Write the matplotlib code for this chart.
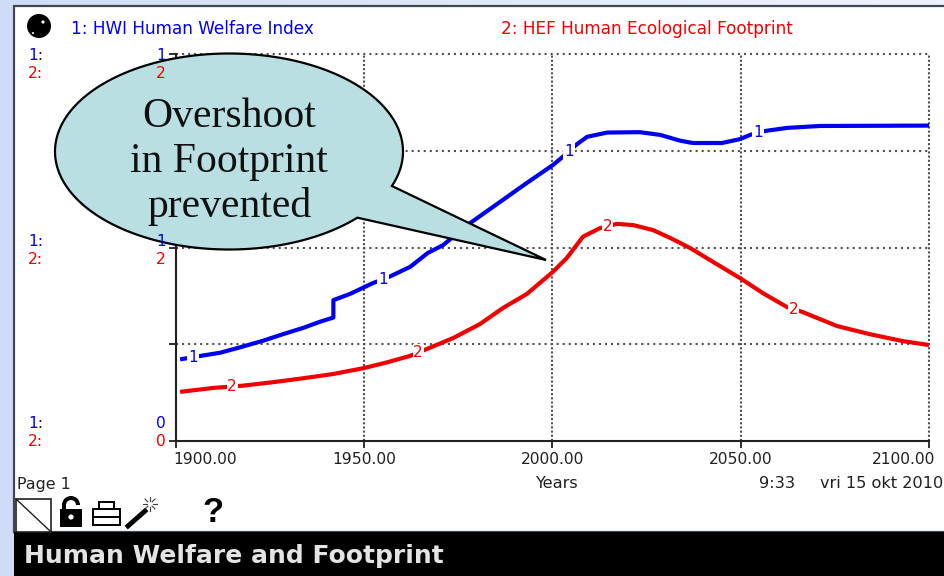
import numpy as np
import matplotlib
matplotlib.use('Agg')
import matplotlib.pyplot as plt
from matplotlib.patches import Polygon, Rectangle, Circle, Wedge
from matplotlib.transforms import ScaledTranslation

# values, fraction of the axis
years_hwi = [1901.1, 1907.2, 1911.7, 1917.0, 1923.1, 1928.4, 1933.7, 1938.2, 1941.8, 1941.8,
             1946.2, 1952.3, 1956.8, 1962.2, 1966.9, 1970.9, 1978.1, 1986.1, 1993.2, 2000.1,
             2003.3, 2006.5, 2009.2, 2014.5, 2023.2, 2028.6, 2033.9, 2037.3, 2045.0, 2049.8,
             2052.5, 2056.4, 2062.3, 2071.0, 2100]
hwi = [0.211, 0.221, 0.228, 0.242, 0.259, 0.276, 0.292, 0.308, 0.319, 0.364,
       0.380, 0.408, 0.425, 0.450, 0.486, 0.506, 0.563, 0.618, 0.667, 0.713,
       0.739, 0.767, 0.786, 0.797, 0.798, 0.791, 0.776, 0.770, 0.770, 0.780,
       0.791, 0.801, 0.809, 0.814, 0.815]
years_hef = [1901.1, 1909.8, 1917.8, 1925.8, 1933.7, 1941.7, 1949.7, 1956.0, 1962.2, 1966.7,
             1973.6, 1980.7, 1986.9, 1993.2, 2000.1, 2003.8, 2008.1, 2012.6, 2017.1, 2021.4,
             2026.7, 2031.2, 2036.5, 2042.6, 2049.8, 2055.9, 2062.3, 2066.5, 2075.6, 2084.3,
             2093.1, 2100]
hef = [0.127, 0.137, 0.143, 0.152, 0.162, 0.173, 0.188, 0.203, 0.220, 0.238,
       0.266, 0.302, 0.344, 0.380, 0.437, 0.473, 0.528, 0.550, 0.561, 0.558,
       0.545, 0.525, 0.499, 0.463, 0.421, 0.382, 0.346, 0.333, 0.297, 0.276,
       0.258, 0.248]
x_ticks = [1900, 1950, 2000, 2050, 2100]
y_ticks = [0, 0.25, 0.5, 0.75, 1]
x_labels = ['1900.00', '1950.00', '2000.00', '2050.00', '2100.00']
hwi_marks = [1904.5, 1955, 2004.4, 2054.6]
hef_marks = [1914.9, 1964.3, 2014.7, 2064.1]

BLUE = '#0000F0'
RED = '#F00000'
W, H = 945, 576

fig = plt.figure(figsize=(W / 100, H / 100), dpi=100)

# slide background
bg = fig.add_axes([0, 0, 1, 1], zorder=0)
grad = np.linspace(0, 1, 256).reshape(1, -1)
bg.imshow(grad, aspect='auto', extent=[0, W, H, 0], cmap=matplotlib.colors.LinearSegmentedColormap.from_list(
    'slide', ['#CEDCF7', '#E0E8FA', '#EEF3FD']))
bg.add_patch(Rectangle((14, 6), W, 526, fc='white', ec='#404850', lw=1.6))
bg.add_patch(Rectangle((14, 532), W, 44, fc='black', ec='none'))
bg.set_xlim(0, W)
bg.set_ylim(H, 0)
bg.axis('off')

# the graph
ax = fig.add_axes([176 / W, 1 - 441 / H, 753 / W, 387 / H], zorder=1)
ax.set_facecolor('none')
ax.set_xlim(1900, 2100)
ax.set_ylim(0, 1)
ax.set_xticks(x_ticks)
ax.set_xticklabels(x_labels, fontsize=11.2)
ax.set_yticks(y_ticks)
ax.set_yticklabels([])
ax.tick_params(length=5, width=1.3, color='#202020', pad=3, labelcolor='#202020')
labs = ax.get_xticklabels()
labs[0].set_ha('left')
labs[0].set_transform(labs[0].get_transform() + ScaledTranslation(-3 / 100, 0, fig.dpi_scale_trans))
labs[-1].set_ha('right')
labs[-1].set_transform(labs[-1].get_transform() + ScaledTranslation(6 / 100, 0, fig.dpi_scale_trans))
for s in ['top', 'right']:
    ax.spines[s].set_visible(False)
for s in ['left', 'bottom']:
    ax.spines[s].set_linewidth(1.5)
    ax.spines[s].set_color('#202020')
for v in y_ticks[1:]:
    ax.axhline(v, color='#505050', lw=1.5, ls=(0, (1, 1.9)), zorder=1, clip_on=False)
for v in x_ticks[1:]:
    ax.axvline(v, color='#505050', lw=1.5, ls=(0, (1, 1)), zorder=1, clip_on=False)

ax.plot(years_hwi, hwi, color=BLUE, lw=3, zorder=3, clip_on=False, solid_capstyle='butt')
ax.plot(years_hef, hef, color=RED, lw=3, zorder=3, clip_on=False, solid_capstyle='butt')
for m in hwi_marks:
    ax.text(m, np.interp(m, years_hwi, hwi), '1', color=BLUE, fontsize=11, ha='center', va='center',
            zorder=4, bbox=dict(fc='white', ec='none', pad=0.6))
for m in hef_marks:
    ax.text(m, np.interp(m, years_hef, hef), '2', color=RED, fontsize=11, ha='center', va='center',
            zorder=4, bbox=dict(fc='white', ec='none', pad=0.6))

# everything around the graph, in pixels
ov = fig.add_axes([0, 0, 1, 1], zorder=2)
ov.set_xlim(0, W)
ov.set_ylim(H, 0)
ov.axis('off')
ov.patch.set_alpha(0)


def txt(x, y, s, color='#202020', size=11.2, ha='left', **kw):
    kw.setdefault('family', 'DejaVu Sans')
    kw.setdefault('va', 'center')
    ov.text(x, y, s, color=color, fontsize=size, ha=ha, **kw)


txt(71, 29.5, '1: HWI Human Welfare Index', BLUE, 12.2)
txt(501, 29.5, '2: HEF Human Ecological Footprint', RED, 12.2)
for y1, y2 in [(55, 73), (241, 259), (424, 441)]:
    txt(28, y1, '1:', BLUE)
    txt(28, y2, '2:', RED)
txt(161, 55, '1', BLUE, ha='center')
txt(161, 73, '2', RED, ha='center')
txt(161, 241, '1', BLUE, ha='center')
txt(161, 259, '2', RED, ha='center')
txt(161, 424, '0', BLUE, ha='center')
txt(161, 441, '0', RED, ha='center')
txt(556, 483, 'Years', size=11.6, ha='center')
txt(759, 483, '9:33', size=11.6)
txt(820, 483, 'vri 15 okt 2010', size=11.6)
txt(17, 484, 'Page 1', size=11.4)
txt(24, 556, 'Human Welfare and Footprint', '#E4E4E4', 18, fontweight='bold')

# toolbar icons
ov.add_patch(Circle((39, 26), 12, fc='black', ec='none'))
ov.add_patch(Circle((43, 22), 1.6, fc='white', ec='none'))
ov.add_patch(Circle((33, 33), 1, fc='white', ec='none'))
ov.add_patch(Rectangle((15.5, 498.5), 35, 33, fc='white', ec='#202020', lw=1.2))
ov.plot([16, 50], [499, 531], color='#202020', lw=1)
ov.add_patch(Rectangle((60, 509), 22, 18, fc='black', ec='none'))
ov.add_patch(Wedge((71, 505), 9, 180, 360, width=4, fc='black', ec='none'))
ov.add_patch(Rectangle((62, 505), 4, 5, fc='black', ec='none'))
ov.add_patch(Circle((71, 517), 2.6, fc='white', ec='none'))
ov.add_patch(Rectangle((93, 509), 27, 16, fc='white', ec='black', lw=1.4))
ov.add_patch(Rectangle((99, 502), 15, 7, fc='white', ec='black', lw=1.4))
ov.plot([93, 120], [517, 517], color='black', lw=1.4)
ov.plot([128, 145], [526, 511], color='black', lw=3.5)
for a in np.arange(0, 360, 45):
    ov.plot([150 + 3 * np.cos(np.radians(a)), 150 + 7 * np.cos(np.radians(a))],
            [504 + 3 * np.sin(np.radians(a)), 504 + 7 * np.sin(np.radians(a))], color='#404040', lw=0.8)
txt(213, 513, '?', 'black', 25, ha='center', fontweight='bold', family='Liberation Sans')

# speech bubble
cx, cy, rx, ry = 229, 151.5, 174, 98
tip = (546, 260)
a1 = np.arctan2((186 - cy) / ry, (392 - cx) / rx)
a2 = np.arctan2((218 - cy) / ry, (358 - cx) / rx)
t = np.linspace(a2, a1 + 2 * np.pi, 200)
bubble = list(zip(cx + rx * np.cos(t), cy + ry * np.sin(t))) + [tip]
ov.add_patch(Polygon(bubble, closed=True, fc='#B9DFE3', ec='black', lw=1.6, joinstyle='miter'))
for y, s in [(127, 'Overshoot'), (172, 'in Footprint'), (217, 'prevented')]:
    txt(229, y, s, '#101010', 30, ha='center', family='Liberation Serif', va='baseline')

fig.savefig('out.png', dpi=100)
